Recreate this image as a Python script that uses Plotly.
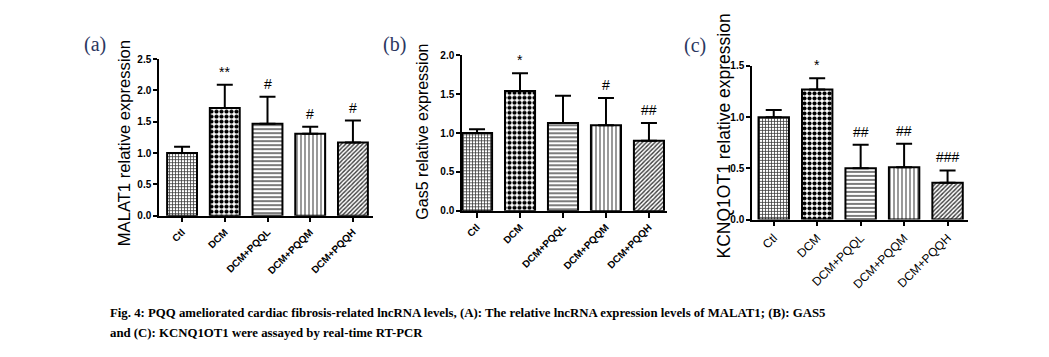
import plotly.graph_objects as go

groups = ["Ctl", "DCM", "DCM+PQQL", "DCM+PQQM", "DCM+PQQH"]

malat1_mean = [1.00, 1.72, 1.47, 1.31, 1.17]
malat1_top = [1.10, 2.09, 1.90, 1.42, 1.52]
malat1_sig = ["", "**", "#", "#", "#"]

gas5_mean = [1.00, 1.54, 1.13, 1.10, 0.90]
gas5_top = [1.05, 1.77, 1.48, 1.45, 1.13]
gas5_sig = ["", "*", "", "#", "##"]

kcnq_mean = [1.00, 1.27, 0.50, 0.51, 0.36]
kcnq_top = [1.07, 1.38, 0.73, 0.74, 0.48]
kcnq_sig = ["", "*", "##", "##", "###"]

caption_lines = [
    "Fig. 4: PQQ ameliorated cardiac fibrosis-related lncRNA levels, (A): The relative lncRNA expression levels of MALAT1; (B): GAS5",
    "and (C): KCNQ1OT1 were assayed by real-time RT-PCR",
]

W, H = 1049, 357

pat_shape = ["+", ".", "-", "|", "/"]
pat_size = [3, 5, 4, 4, 3]
pat_sol = [0.45, 0.55, 0.35, 0.3, 0.45]
pat_fg = ["#3a3a3a", "#000000", "#444444", "#555555", "#3a3a3a"]

fig = go.Figure()

panels = [
    dict(mean=malat1_mean, top=malat1_top, sig=malat1_sig, ax="", xpx=(159, 373), ypx=(217, 55),
         yr=[0, 2.5], xr=[-0.54, 4.47], dtick=0.5, title="MALAT1 relative expression",
         tx=124, ty=142, tsize=16.6, letter="(a)", lx=95, ly=40, xbold=True),
    dict(mean=gas5_mean, top=gas5_top, sig=gas5_sig, ax="2", xpx=(462, 667), ypx=(212, 51),
         yr=[0, 2.0], xr=[-0.35, 4.42], dtick=0.5, title="Gas5 relative expression",
         tx=423, ty=130, tsize=16, letter="(b)", lx=394, ly=40, xbold=True),
    dict(mean=kcnq_mean, top=kcnq_top, sig=kcnq_sig, ax="3", xpx=(752, 968), ypx=(221, 62),
         yr=[0, 1.5], xr=[-0.5, 4.47], dtick=0.5, title="KCNQ1OT1 relative expression",
         tx=724, ty=135, tsize=17.5, letter="(c)", lx=695, ly=41, xbold=False),
]

annotations = []
for p in panels:
    err = [t - m for t, m in zip(p["top"], p["mean"])]
    fig.add_trace(go.Bar(
        x=groups, y=p["mean"], xaxis="x" + p["ax"], yaxis="y" + p["ax"],
        width=0.7,
        marker=dict(color="white", line=dict(color="black", width=2),
                    pattern=dict(shape=pat_shape, size=pat_size, solidity=pat_sol,
                                 fgcolor=pat_fg, bgcolor="white", fillmode="replace")),
        error_y=dict(type="data", symmetric=False, array=err, arrayminus=[0] * len(err),
                     thickness=2, width=8, color="black"),
        showlegend=False, hoverinfo="skip",
    ))
    xa = dict(domain=[p["xpx"][0] / W, p["xpx"][1] / W], range=p["xr"], type="category",
              anchor="y" + p["ax"], showline=True, linecolor="black", linewidth=1.5,
              ticks="outside", ticklen=5, tickcolor="black", tickwidth=1.5,
              tickangle=-45, showgrid=False, zeroline=False,
              tickfont=dict(family="Liberation Sans, Arial", size=10 if p["xbold"] else 12,
                            color="black", weight="bold" if p["xbold"] else "normal"))
    ya = dict(domain=[1 - p["ypx"][0] / H, 1 - p["ypx"][1] / H], range=p["yr"],
              anchor="x" + p["ax"], showline=True, linecolor="black", linewidth=1.5,
              ticks="outside", ticklen=4, tickcolor="black", tickwidth=1.5,
              dtick=p["dtick"], tickformat=".1f", showgrid=False, zeroline=False,
              tickfont=dict(family="Liberation Sans, Arial", size=10, color="black", weight="bold"))
    fig.update_layout(**{"xaxis" + p["ax"]: xa, "yaxis" + p["ax"]: ya})
    for g, t, s in zip(groups, p["top"], p["sig"]):
        if s:
            annotations.append(dict(x=g, y=t, xref="x" + p["ax"], yref="y" + p["ax"],
                                    text=s, showarrow=False, xanchor="center", yanchor="bottom", yshift=3,
                                    font=dict(family="Liberation Sans, Arial", size=14, color="black")))
    annotations.append(dict(x=p["tx"] / W, y=1 - p["ty"] / H, xref="paper", yref="paper",
                            xanchor="center", yanchor="middle",
                            text=p["title"], textangle=-90, showarrow=False,
                            font=dict(family="Liberation Sans, Arial", size=p["tsize"], color="black")))
    annotations.append(dict(x=p["lx"] / W, y=1 - p["ly"] / H, xref="paper", yref="paper",
                            xanchor="center", yanchor="middle",
                            text=p["letter"], showarrow=False,
                            font=dict(family="Liberation Serif, Times New Roman", size=20, color="#2b3660")))

for i, line in enumerate(caption_lines):
    annotations.append(dict(
        x=108 / W, y=1 - (318 + 20 * i) / H, xref="paper", yref="paper",
        xanchor="left", yanchor="middle", align="left", showarrow=False, text=line,
        font=dict(family="Liberation Serif, Times New Roman", size=12.8, color="black", weight="bold"),
    ))

fig.update_layout(width=W, height=H, margin=dict(l=0, r=0, t=0, b=0),
                  paper_bgcolor="white", plot_bgcolor="white", annotations=annotations,
                  bargap=0.3, hovermode=False)

fig.write_html("out.html", config={"displayModeBar": False},
               post_script="document.body.style.margin='0px';")
